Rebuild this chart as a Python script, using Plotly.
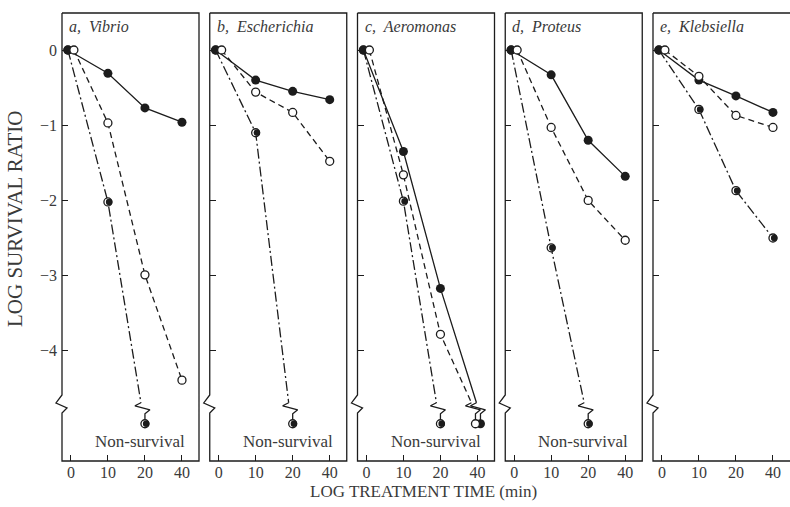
import plotly.graph_objects as go

# ---------------- data ----------------
TIMES = [0, 10, 20, 40]
X_TICK_TEXT = ["0", "10", "20", "40"]
Y_TICKS = [0, -1, -2, -3, -4]
Y_TICK_TEXT = ["0", "\u22121", "\u22122", "\u22123", "\u22124"]

PANEL_TITLES = ["a, Vibrio", "b, Escherichia", "c, Aeromonas", "d, Proteus", "e, Klebsiella"]

# None = non-survival at that time
vibrio_filled = [0, -0.31, -0.77, -0.96]
vibrio_open = [0, -0.97, -2.99, -4.39]
vibrio_half = [0, -2.02, None]

escherichia_filled = [0, -0.40, -0.55, -0.66]
escherichia_open = [0, -0.56, -0.83, -1.48]
escherichia_half = [0, -1.10, None]

aeromonas_filled = [0, -1.35, -3.17, None]
aeromonas_open = [0, -1.66, -3.78, None]
aeromonas_half = [0, -2.01, None]

proteus_filled = [0, -0.33, -1.20, -1.68]
proteus_open = [0, -1.03, -2.00, -2.53]
proteus_half = [0, -2.63, None]

klebsiella_filled = [0, -0.40, -0.61, -0.83]
klebsiella_open = [0, -0.35, -0.87, -1.03]
klebsiella_half = [0, -0.79, -1.87, -2.50]

NON_SURVIVAL_LEVEL = -4.97
AXIS_BREAK_LEVEL = -4.72
NON_SURVIVAL_LABEL = "Non-survival"
X_TITLE = "LOG TREATMENT TIME (min)"
Y_TITLE = "LOG SURVIVAL RATIO"

PANELS = [
    (PANEL_TITLES[0], vibrio_filled, vibrio_open, vibrio_half),
    (PANEL_TITLES[1], escherichia_filled, escherichia_open, escherichia_half),
    (PANEL_TITLES[2], aeromonas_filled, aeromonas_open, aeromonas_half),
    (PANEL_TITLES[3], proteus_filled, proteus_open, proteus_half),
    (PANEL_TITLES[4], klebsiella_filled, klebsiella_open, klebsiella_half),
]

# ---------------- layout geometry / style ----------------
W, H = 790, 507
M_L, M_R, M_T, M_B = 62, 0, 13, 46
PLOT_W = W - M_L - M_R
PLOT_H = H - M_T - M_B
PANEL_W = 137
PANEL_STEP = (PLOT_W - PANEL_W) / 4
XR = [-0.24, 3.46]
YR = [-5.465, 0.492]
PX_X = PANEL_W / (XR[1] - XR[0])
PX_Y = PLOT_H / (YR[1] - YR[0])

INK = "#1c1c1c"
TXT = "#3a3a3a"
FONT = "Liberation Serif"
MS = 9

STYLES = {
    "half": dict(dash="10px,3px,2px,3px", x0_shift=-3, ns_shift=0),
    "filled": dict(dash="solid", x0_shift=-3, ns_shift=3),
    "open": dict(dash="6px,4px", x0_shift=3, ns_shift=-2),
}
# zigzag (px, dx right / dy up) relative to the non-survival marker
ZIG = [(-4, 21), (-10, 18), (5, 14), (0, 10), (0, 0)]
# axis-break zigzag on left frame edge (px, dx right / dy down) around AXIS_BREAK_LEVEL
BREAK = [(0, -10), (-6, -2), (5, 3), (0, 8)]

fig = go.Figure()


def pos(i, shift_px=0.0):
    return i + shift_px / PX_X


def markers(k, xs, ys, kind):
    xa, ya = f"x{k}" if k > 1 else "x", f"y{k}" if k > 1 else "y"
    if kind == "filled":
        fig.add_trace(go.Scatter(x=xs, y=ys, mode="markers", xaxis=xa, yaxis=ya,
                                 marker=dict(size=MS, color=INK, line=dict(width=0)),
                                 cliponaxis=False, showlegend=False, hoverinfo="skip"))
    elif kind == "open":
        fig.add_trace(go.Scatter(x=xs, y=ys, mode="markers", xaxis=xa, yaxis=ya,
                                 marker=dict(size=MS - 1, color="white", line=dict(width=1.3, color=INK)),
                                 cliponaxis=False, showlegend=False, hoverinfo="skip"))
    else:
        fig.add_trace(go.Scatter(x=xs, y=ys, mode="markers", xaxis=xa, yaxis=ya,
                                 marker=dict(size=MS - 1, color="white", line=dict(width=1.3, color=INK)),
                                 cliponaxis=False, showlegend=False, hoverinfo="skip"))
        fig.add_trace(go.Scatter(x=[x + 1.2 / PX_X for x in xs], y=ys, mode="markers",
                                 xaxis=xa, yaxis=ya,
                                 marker=dict(size=MS - 2.5, color=INK, line=dict(width=0)),
                                 cliponaxis=False, showlegend=False, hoverinfo="skip"))


marker_jobs = []
for p, (title, filled, opened, half) in enumerate(PANELS):
    k = p + 1
    xa, ya = f"x{k}" if k > 1 else "x", f"y{k}" if k > 1 else "y"
    for kind, vals in (("half", half), ("filled", filled), ("open", opened)):
        st = STYLES[kind]
        xs, ys = [], []
        ns_idx = None
        for i, v in enumerate(vals):
            if v is None:
                ns_idx = i
                break
            xs.append(pos(i, st["x0_shift"] if i == 0 else 0))
            ys.append(v)
        line_x, line_y = list(xs), list(ys)
        ns_pt = None
        if ns_idx is not None:
            nx = pos(ns_idx, st["ns_shift"])
            ny = NON_SURVIVAL_LEVEL
            zx = [nx + dx / PX_X for dx, dy in ZIG]
            zy = [ny + dy / PX_Y for dx, dy in ZIG]
            line_x.append(zx[0])
            line_y.append(zy[0])
            ns_pt = (nx, ny)
            fig.add_trace(go.Scatter(x=zx, y=zy, mode="lines", xaxis=xa, yaxis=ya,
                                     line=dict(color=INK, width=1.3), showlegend=False,
                                     hoverinfo="skip", cliponaxis=False))
        fig.add_trace(go.Scatter(x=line_x, y=line_y, mode="lines", xaxis=xa, yaxis=ya,
                                 line=dict(color=INK, width=1.3, dash=st["dash"]),
                                 showlegend=False, hoverinfo="skip", cliponaxis=False))
        mx, my = list(xs), list(ys)
        if ns_pt:
            mx.append(ns_pt[0])
            my.append(ns_pt[1])
        marker_jobs.append((k, mx, my, kind))

for job in marker_jobs:
    markers(*job)

# ---------------- axes ----------------
layout = dict(
    width=W, height=H,
    margin=dict(l=M_L, r=M_R, t=M_T, b=M_B, pad=0),
    plot_bgcolor="white", paper_bgcolor="white",
    showlegend=False,
    font=dict(family=FONT, color=TXT, size=15),
)
shapes, annotations = [], []


def to_py(v):
    return (v - YR[0]) / (YR[1] - YR[0])


for p, (title, filled, opened, half) in enumerate(PANELS):
    k = p + 1
    d0 = p * PANEL_STEP / PLOT_W
    d1 = (p * PANEL_STEP + PANEL_W) / PLOT_W
    xname = "xaxis" if k == 1 else f"xaxis{k}"
    yname = "yaxis" if k == 1 else f"yaxis{k}"
    layout[xname] = dict(domain=[d0, d1], range=XR, anchor="y" if k == 1 else f"y{k}",
                         tickmode="array", tickvals=list(range(len(TIMES))), ticktext=X_TICK_TEXT,
                         ticks="inside", ticklen=6, tickwidth=1.1, tickcolor=INK,
                         showgrid=False, zeroline=False, showline=False,
                         tickfont=dict(family=FONT, size=16, color=TXT), fixedrange=True)
    layout[yname] = dict(domain=[0, 1], range=YR, anchor="x" if k == 1 else f"x{k}",
                         tickmode="array", tickvals=Y_TICKS, ticktext=Y_TICK_TEXT,
                         ticks="inside", ticklen=6, tickwidth=1.1, tickcolor=INK,
                         showticklabels=(k == 1), ticklabelstandoff=4,
                         showgrid=False, zeroline=False, showline=False,
                         tickfont=dict(family=FONT, size=16, color=TXT), fixedrange=True)
    # frame with axis break on the left edge (last panel runs off the right edge)
    fr = d1 if k < len(PANELS) else 1.01
    yb = to_py(AXIS_BREAK_LEVEL)
    pts = [(fr, 1), (fr, 0), (d0, 0)]
    for dx, dy in reversed(BREAK):
        pts.append((d0 + dx / PLOT_W, yb - dy / PLOT_H))
    pts.append((d0, 1))
    path = f"M {d0},1 " + " ".join(f"L {x},{y}" for x, y in pts)
    shapes.append(dict(type="path", xref="paper", yref="paper", path=path,
                       line=dict(color=INK, width=1.3), layer="above"))
    letter, name = title.split(", ")
    annotations.append(dict(xref=f"x{k} domain" if k > 1 else "x domain",
                            yref=f"y{k} domain" if k > 1 else "y domain",
                            x=0, y=1, xanchor="left", yanchor="top", xshift=5, yshift=-3,
                            text=f"<i>{letter},  {name}</i>", showarrow=False,
                            font=dict(family=FONT, size=16, color=TXT)))
    if any(v is None for v in filled + opened + half):
        annotations.append(dict(xref=f"x{k} domain" if k > 1 else "x domain",
                                yref=f"y{k}" if k > 1 else "y",
                                x=1, y=-5.2, xanchor="right", yanchor="middle", xshift=-12,
                                text=NON_SURVIVAL_LABEL, showarrow=False,
                                font=dict(family=FONT, size=17, color=TXT)))

annotations.append(dict(xref="paper", yref="paper", x=0.496, y=-0.069,
                        xanchor="center", yanchor="middle", text=X_TITLE, showarrow=False,
                        font=dict(family=FONT, size=17, color=TXT)))
annotations.append(dict(xref="paper", yref="paper", x=-0.0646, y=0.5424,
                        xanchor="center", yanchor="middle", text=Y_TITLE, showarrow=False,
                        textangle=-90, font=dict(family=FONT, size=21, color=TXT)))

layout["shapes"] = shapes
layout["annotations"] = annotations
fig.update_layout(**layout)
fig.write_html("out.html", config={"displayModeBar": False},
               post_script="document.body.style.margin='0';document.body.style.padding='0';")
